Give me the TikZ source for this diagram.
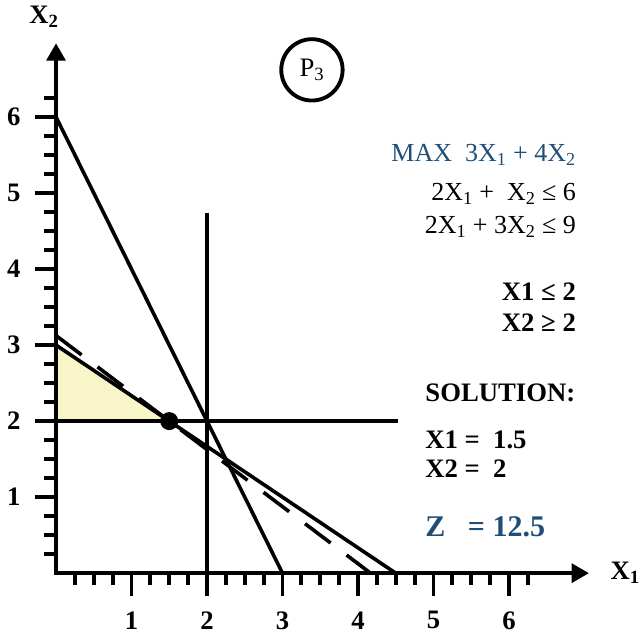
\documentclass[tikz,border=0pt]{standalone}
\usepackage{fontspec}
\setmainfont{Liberation Serif}
\usetikzlibrary{arrows.meta,positioning}
\definecolor{ObjBlue}{RGB}{31,78,121}
\definecolor{FeasTint}{RGB}{248,246,201}
\tikzset{
  axis/.style={line width=3pt,{Triangle[length=13pt,width=14pt]}-{Triangle[length=13pt,width=14pt]}},
  tickmark/.style={line width=2.9pt},
  cline/.style={line width=2.7pt},
  objline/.style={line width=2.7pt,dash pattern=on 24pt off 15pt},
  ticklabel/.style={font=\fontsize{20}{24}\selectfont\bfseries,inner sep=0pt},
  modeltext/.style={font=\fontsize{19.5}{23}\selectfont,inner sep=0pt},
  boldtext/.style={font=\fontsize{20}{24}\selectfont\bfseries,inner sep=0pt},
  probcircle/.style={circle,draw,line width=2.9pt,minimum size=46pt,inner sep=0pt,font=\fontsize{20}{24}\selectfont}
}

\begin{document}
\begin{tikzpicture}[x=56.6pt,y=57pt]
  \useasboundingbox (-0.742,-0.829) rectangle (7.762,7.539);

  % corner points
  \coordinate (o) at (0,0);
  \coordinate (xtip) at (7.06,0);
  \coordinate (ytip) at (0,6.97);
  \coordinate (a6) at (0,6);
  \coordinate (b3) at (3,0);
  \coordinate (a3) at (0,3);
  \coordinate (b45) at (4.5,0);
  \coordinate (z0) at (0,3.125);
  \coordinate (z1) at (4.1667,0);
  \coordinate (v0) at (2,0);
  \coordinate (v1) at (2,4.74);
  \coordinate (h0) at (0,2);
  \coordinate (h1) at (4.53,2);
  \coordinate (opt) at (1.5,2);

  % feasible region
  \fill[FeasTint] (h0) -- (a3) -- (opt) -- cycle;

  % constraints and objective
  \draw[cline] (a6) -- (b3);
  \draw[cline] (a3) -- (b45);
  \draw[cline] (v0) -- (v1);
  \draw[cline] (h0) -- (h1);
  \draw[objline] (z0) -- (z1);

  % ticks
  \foreach \i in {1,...,25} {
    \draw[tickmark] (\i/4,0) -- ++(0,-0.16);
    \draw[tickmark] (0,\i/4) -- ++(-0.16,0);
  }
  \foreach \n in {1,...,6} {
    \draw[tickmark] (\n,0) -- ++(0,-0.3);
    \draw[tickmark] (0,\n) -- ++(-0.28,0);
    \node[ticklabel] (xl\n) at (\n,-0.62) {\n};
    \node[ticklabel] (yl\n) at (-0.56,\n) {\n};
  }

  % axes
  \draw[axis] (ytip) -- (o) -- (xtip);
  \node[ticklabel] (xname) at (7.54,0) {X\textsubscript{1}};
  \node[ticklabel] (yname) at (-0.16,7.32) {X\textsubscript{2}};

  % optimum
  \node[circle,fill,minimum size=13.5pt,inner sep=0pt] (optdot) at (opt) {};

  % problem label
  \node[probcircle] (prob) at (3.39,6.62) {P\textsubscript{3}};

  % model
  \node[modeltext,text=ObjBlue,anchor=east] (objfn) at (6.89,5.5) {MAX~~3X\textsubscript{1} + 4X\textsubscript{2}};
  \node[modeltext,anchor=east] (cons1) at (6.89,4.99) {2X\textsubscript{1} +~~X\textsubscript{2} ≤ 6};
  \node[modeltext,anchor=east] (cons2) at (6.89,4.55) {2X\textsubscript{1} + 3X\textsubscript{2} ≤ 9};
  \node[boldtext,anchor=east] (bnd1) at (6.89,3.70) {X1 ≤ 2};
  \node[boldtext,anchor=east] (bnd2) at (6.89,3.30) {X2 ≥ 2};

  % solution
  \node[boldtext,anchor=west] (soltitle) at (4.89,2.37) {SOLUTION:};
  \node[boldtext,anchor=west] (solx1) at (4.89,1.75) {X1 =~~1.5};
  \node[boldtext,anchor=west] (solx2) at (4.89,1.38) {X2 =~~2};
  \node[boldtext,anchor=west,text=ObjBlue,font=\fontsize{22.5}{27}\selectfont\bfseries] (zval) at (4.89,0.605) {Z~~~= 12.5};
\end{tikzpicture}
\end{document}
